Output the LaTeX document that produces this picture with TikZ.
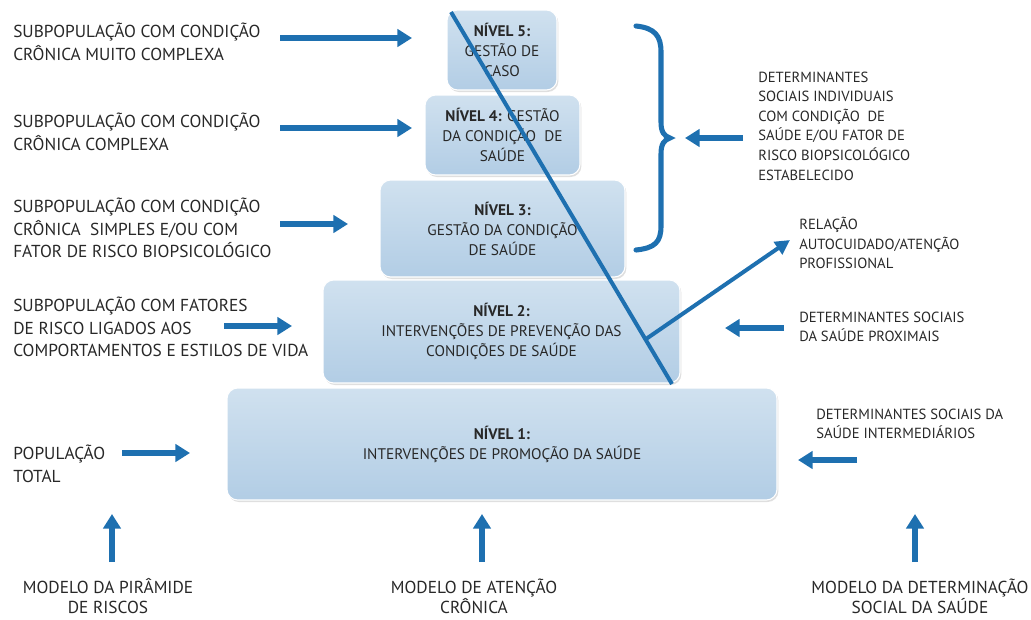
\documentclass[tikz,border=0pt]{standalone}
\usepackage{fontspec}
\setmainfont{PT Sans}
\usetikzlibrary{arrows.meta,calc,shadows}
\definecolor{arrowblue}{RGB}{30,112,176}
\definecolor{boxtop}{RGB}{208,225,239}
\definecolor{boxbottom}{RGB}{178,205,229}
\definecolor{txtgray}{RGB}{40,40,40}

\begin{document}
\begin{tikzpicture}[
  x=0.75pt, y=-0.75pt,
  levelbox/.style={
    rounded corners=8pt,
    top color=boxtop,
    bottom color=boxbottom,
    draw=white,
    line width=0.8pt,
    drop shadow={opacity=0.25, shadow xshift=1pt, shadow yshift=-1.5pt},
    align=center,
    inner sep=0pt,
    text=txtgray,
    font=\fontsize{11.5}{15}\selectfont
  },
  sidetext/.style={
    align=left,
    inner sep=0pt,
    text=txtgray,
    font=\fontsize{13}{17}\selectfont
  },
  righttext/.style={
    sidetext,
    font=\fontsize{11}{14.7}\selectfont
  },
  bottomtext/.style={
    sidetext,
    align=center,
    font=\fontsize{13}{15}\selectfont
  },
  bluearrow/.style={
    draw=arrowblue,
    line width=5pt,
    -{Triangle[length=11pt,width=13pt]}
  },
  thinline/.style={
    draw=arrowblue,
    line width=3pt
  },
  bracepath/.style={
    draw=arrowblue,
    line width=3.8pt,
    line cap=round
  }
]
\useasboundingbox (0,0) rectangle (1031,619);

% pyramid levels
\node[levelbox, minimum width=412.5pt, minimum height=84pt] (l1) at (502,444)
  {\textbf{NÍVEL 1:}\\INTERVENÇÕES DE PROMOÇÃO DA SAÚDE};
\node[levelbox, minimum width=267.75pt, minimum height=77.25pt] (l2) at (501.5,331.5)
  {\textbf{NÍVEL 2:}\\INTERVENÇÕES DE PREVENÇÃO DAS\\CONDIÇÕES DE SAÚDE};
\node[levelbox, minimum width=183.75pt, minimum height=72.75pt] (l3) at (502.5,228.5)
  {\textbf{NÍVEL 3:}\\GESTÃO DA CONDIÇÃO\\DE SAÚDE};
\node[levelbox, minimum width=116.25pt, minimum height=60pt] (l4) at (502.5,135)
  {\textbf{NÍVEL 4:} GESTÃO\\DA CONDIÇÃO\ \ DE\\SAÚDE};
\node[levelbox, minimum width=82.5pt, minimum height=60pt] (l5) at (502,50)
  {\textbf{NÍVEL 5:}\\GESTÃO DE\\CASO};

% diagonal line and branch
\coordinate (dtop) at (451,12);
\coordinate (dbot) at (672,384);
\coordinate (djoin) at ($(dtop)!0.88!(dbot)$);
\coordinate (reltip) at (790,240);
\draw[thinline] (dtop) -- (dbot);
\draw[thinline, -{Triangle[length=11pt,width=11pt]}] (djoin) -- (reltip);

% left texts
\node[sidetext, anchor=west] (t5) at (13,42)
  {SUBPOPULAÇÃO COM CONDIÇÃO\\CRÔNICA MUITO COMPLEXA};
\node[sidetext, anchor=west] (t4) at (13,132)
  {SUBPOPULAÇÃO COM CONDIÇÃO\\CRÔNICA COMPLEXA};
\node[sidetext, anchor=west] (t3) at (13,228)
  {SUBPOPULAÇÃO COM CONDIÇÃO\\CRÔNICA\ \ SIMPLES E/OU COM\\FATOR DE RISCO BIOPSICOLÓGICO};
\node[sidetext, anchor=west] (t2) at (13,327)
  {SUBPOPULAÇÃO COM FATORES\\DE RISCO LIGADOS AOS\\COMPORTAMENTOS E ESTILOS DE VIDA};
\node[sidetext, anchor=west] (t1) at (13,464)
  {POPULAÇÃO\\TOTAL};

% left arrows
\coordinate (a5s) at (280,38);  \coordinate (a5e) at (412,38);
\coordinate (a4s) at (280,128); \coordinate (a4e) at (412,128);
\coordinate (a3s) at (280,224); \coordinate (a3e) at (348,224);
\coordinate (a2s) at (224,326); \coordinate (a2e) at (292,326);
\coordinate (a1s) at (122,453); \coordinate (a1e) at (190,453);
\foreach \i in {1,...,5}
  \draw[bluearrow] (a\i s) -- (a\i e);

% brace and right side
\draw[bracepath] (636,26) .. controls (655,28) and (661,36) .. (661,52)
  -- (661,122) .. controls (661,132) and (664,136) .. (670,138)
  .. controls (664,140) and (661,144) .. (661,154)
  -- (661,226) .. controls (661,242) and (655,248) .. (636,250);
\node[righttext, anchor=west] (ind) at (758,126)
  {DETERMINANTES\\SOCIAIS INDIVIDUAIS\\COM CONDIÇÃO\ \ DE\\SAÚDE E/OU FATOR DE\\RISCO BIOPSICOLÓGICO\\ESTABELECIDO};
\coordinate (bs) at (743,138); \coordinate (be) at (685,138);
\draw[bluearrow] (bs) -- (be);

\node[righttext, anchor=west] (rel) at (799,243)
  {RELAÇÃO\\AUTOCUIDADO/ATENÇÃO\\PROFISSIONAL};

\node[righttext, anchor=west] (prox) at (799,327)
  {DETERMINANTES SOCIAIS\\DA SAÚDE PROXIMAIS};
\coordinate (ps) at (784,328); \coordinate (pe) at (725,328);
\draw[bluearrow] (ps) -- (pe);

\node[righttext, anchor=west] (inter) at (816,424)
  {DETERMINANTES SOCIAIS DA\\SAÚDE INTERMEDIÁRIOS};
\coordinate (is) at (857,460); \coordinate (ie) at (798,460);
\draw[bluearrow] (is) -- (ie);

% bottom models
\node[bottomtext] (m1) at (108,596) {MODELO DA PIRÂMIDE\\DE RISCOS};
\node[bottomtext] (m2) at (474,596) {MODELO DE ATENÇÃO\\CRÔNICA};
\node[bottomtext] (m3) at (920,596) {MODELO DA DETERMINAÇÃO\\SOCIAL DA SAÚDE};
\coordinate (u1s) at (112,562); \coordinate (u1e) at (112,514);
\coordinate (u2s) at (482,562); \coordinate (u2e) at (482,514);
\coordinate (u3s) at (915,562); \coordinate (u3e) at (915,514);
\foreach \i in {1,2,3}
  \draw[bluearrow] (u\i s) -- (u\i e);

\end{tikzpicture}
\end{document}
